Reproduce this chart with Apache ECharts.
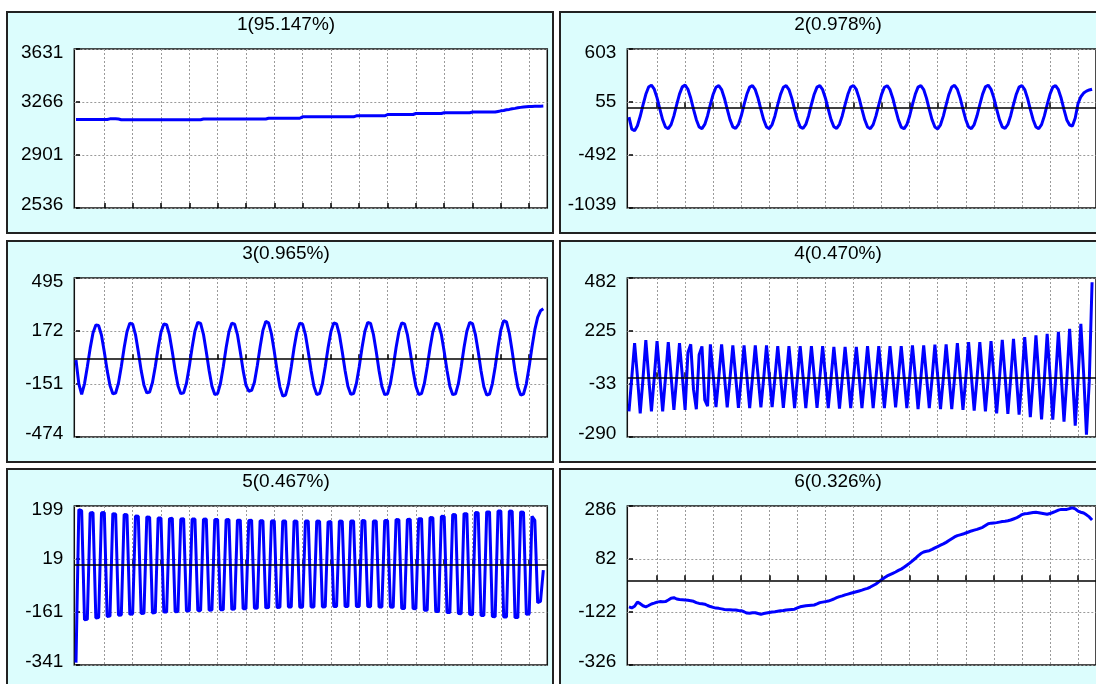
<!DOCTYPE html>
<html>
<head>
<meta charset="utf-8">
<script src="https://cdn.jsdelivr.net/npm/echarts@6/dist/echarts.min.js"></script>
<style>
html,body{margin:0;padding:0;background:#fff;}
#chart{width:1096px;height:684px;}
</style>
</head>
<body>
<div id="chart"></div>
<script>
// Panel titles: component number and its share of variance
const titles = ['1(95.147%)', '2(0.978%)', '3(0.965%)', '4(0.470%)', '5(0.467%)', '6(0.326%)'];

// Y tick labels for each panel (min, two inner gridlines, max)
const yTicks = [
  [2536, 2901, 3266, 3631],
  [-1039, -492, 55, 603],
  [-474, -151, 172, 495],
  [-290, -33, 225, 482],
  [-341, -161, 19, 199],
  [-326, -122, 82, 286]
];

// X tick positions (sample index)
const xTicks = [10, 20, 30, 40, 50, 60, 70, 80, 90, 100, 110, 120, 130, 140, 150, 160];

// Reconstructed components, one value per sample (166 samples)
const comp1 = [
  3145,3145,3145,3145,3145,3145,3145,3145,3145,3145,3145,3145,
  3150,3151,3151,3149,
  3144,3144,3144,3144,3144,3144,3144,3144,3144,3144,3144,3144,3144,3144,3144,
  3144,3144,3144,3144,3144,3144,3144,3144,3144,3144,3144,3144,3144,3144,
  3149,3149,3149,3149,3149,3149,3149,3149,3149,3149,3149,3149,
  3149,3149,3149,3149,3149,3149,3149,3149,3149,3149,3149,
  3154,3154,3154,3154,3154,3154,3154,3154,3154,3154,3154,3154,
  3164,3164,3164,3164,3164,3164,3164,3164,3164,3164,
  3164,3164,3164,3164,3164,3164,3164,3164,3164,
  3171,3171,3171,3171,3171,3171,3171,3171,3171,3171,3171,
  3180,3180,3180,3180,3180,3180,3180,3180,3180,3180,
  3187,3187,3187,3187,3187,3187,3187,3187,3187,3187,
  3192,3192,3192,3192,3192,3192,3192,3192,3192,3192,
  3197,3197,3197,3197,3197,3197,3197,3197,3197,
  3201,3205,3208,3212,3215,3219,3222,3226,3229,3232,3234,
  3235,3235,3236,3236,3237,3238
];

const comp2 = [
  -100,-225,-240,-190,-92,25,135,210,230,188,98,-18,
  -128,-203,-220,-178,-88,28,137,212,230,187,97,-20,
  -127,-202,-219,-176,-86,30,136,208,225,184,95,-19,
  -126,-201,-218,-176,-87,29,135,209,224,183,94,-21,
  -128,-202,-219,-177,-88,28,134,208,225,184,96,-20,
  -127,-201,-218,-176,-86,30,136,209,225,183,95,-19,
  -126,-200,-217,-175,-86,29,135,210,226,185,96,-20,
  -128,-203,-220,-178,-88,27,134,208,224,183,95,-21,
  -129,-204,-221,-179,-89,28,135,209,225,184,96,-20,
  -128,-203,-222,-180,-90,27,136,211,228,186,97,-19,
  -127,-202,-219,-177,-87,29,137,212,229,187,98,-18,
  -126,-201,-218,-176,-86,30,136,209,226,184,95,-20,
  -127,-202,-219,-178,-88,28,135,209,225,183,94,-22,
  -130,-182,-192,-110,40,110,148,168,180,188
];

const comp3 = [
  -5,-150,-214,-150,-46,66,160,208,205,146,44,-68,
  -160,-210,-206,-145,-44,70,168,220,214,150,46,-68,
  -158,-205,-200,-142,-44,68,165,215,210,148,45,-68,
  -162,-210,-205,-146,-45,72,172,225,218,152,46,-69,
  -165,-215,-210,-148,-46,70,168,220,214,150,46,-68,
  -158,-195,-190,-140,-40,75,176,230,222,155,48,-70,
  -170,-224,-218,-152,-47,70,168,220,214,150,46,-69,
  -165,-215,-210,-148,-46,70,168,221,215,150,46,-69,
  -165,-214,-209,-148,-46,71,170,224,218,152,47,-70,
  -166,-216,-211,-149,-46,70,168,221,215,150,46,-69,
  -165,-215,-210,-148,-46,70,168,220,214,150,46,-69,
  -166,-216,-211,-149,-46,71,170,224,217,152,47,-70,
  -168,-218,-212,-150,-47,73,178,235,228,158,48,-72,
  -170,-218,-212,-150,-45,75,180,255,295,307
];

const comp4 = [
  -166,0,166,5,-175,-5,180,4,-166,-3,176,6,-166,-4,171,5,-158,-2,166,8,
  -158,120,160,-60,-155,110,150,-110,-140,160,10,-145,0,160,8,-146,-4,155,6,-148,
  -3,155,5,-150,-2,155,6,-146,-4,155,5,-145,-3,151,4,-148,-5,151,6,-150,
  -3,151,5,-150,-4,151,6,-148,-3,151,4,-150,-5,147,6,-152,-4,147,5,-150,
  -3,147,5,-150,-4,151,6,-150,-3,151,5,-150,-4,151,6,-146,-3,151,5,-150,
  -4,155,6,-155,-3,155,5,-150,-4,158,6,-155,-4,160,5,-155,-4,166,6,-158,
  -5,171,6,-162,-5,171,7,-166,-6,175,8,-175,-6,182,8,-178,-7,187,9,-182,
  -8,195,10,-194,-9,204,10,-204,-10,211,12,-206,-10,220,12,-215,-12,235,14,-235,
  -14,260,16,-279,-20,461
];

const comp5 = [
  -333,
  187,183,-187,-186, 175,177,-181,-180, 176,177,-176,-175, 173,172,-172,-171,
  170,169,-169,-168, 165,164,-166,-165, 162,161,-164,-163, 158,158,-161,-161,
  156,157,-160,-159, 155,156,-158,-157, 155,155,-156,-156, 154,155,-155,-154,
  153,153,-153,-153, 152,153,-152,-151, 151,151,-150,-150, 150,151,-148,-148,
  149,149,-147,-146, 148,149,-146,-145, 148,148,-144,-144, 148,147,-145,-145,
  148,148,-144,-144, 148,147,-144,-143, 145,146,-142,-142, 148,147,-142,-142,
  148,148,-142,-142, 150,149,-142,-143, 148,148,-144,-144, 150,150,-144,-145,
  153,152,-149,-149, 153,154,-149,-150, 156,156,-155,-155, 160,159,-159,-159,
  164,163,-163,-163, 170,169,-166,-167, 173,173,-169,-170, 177,176,-173,-173,
  179,179,-176,-177, 182,182,-178,-178, 182,181,-180,-180, 179,178,-169,-168,
  164,150,-129,-125,
  -19
];

const comp6 = [
  -102,-106,-100,-84,-90,-98,-102,-97,-91,-88,-84,-82,-83,-82,-76,-69,-67,-72,-74,-75,
  -76,-77,-79,-81,-86,-89,-90,-92,-97,-101,-104,-107,-108,-110,-112,-113,-113,-114,-114,-116,
  -117,-121,-126,-127,-125,-125,-128,-131,-128,-126,-124,-122,-121,-119,-117,-116,-114,-113,-112,-111,
  -106,-102,-100,-98,-97,-96,-95,-91,-86,-84,-82,-80,-76,-72,-67,-63,-60,-56,-53,-50,
  -47,-44,-41,-38,-34,-31,-26,-20,-14,-6,2,10,17,22,27,32,38,43,50,58,
  66,75,84,94,103,109,112,114,119,125,130,135,140,146,153,160,167,172,175,178,
  182,186,190,193,196,200,204,211,218,220,221,222,224,226,227,229,232,236,240,246,
  253,256,257,259,261,262,260,258,256,254,257,261,265,270,273,273,273,276,279,275,
  266,262,259,252,244,232
];

const components = [comp1, comp2, comp3, comp4, comp5, comp6];

// Layout of the 2 x 3 panel grid
const FONT = '"Liberation Sans", Arial, Helvetica, sans-serif';
const panelX = [7, 560];
const panelY = [12, 241, 469];
const panelW = 546, panelH = 221;
const plotX = [74.3, 627.3];
const plotW = 473;
const plotOffsetTop = 37, plotH = 159;
const titleX = [286, 838];

const grids = [], xAxes = [], yAxes = [], series = [], graphics = [];

components.forEach((vals, p) => {
  const col = p % 2, row = Math.floor(p / 2);
  const ticks = yTicks[p];

  graphics.push({
    type: 'rect', z: -10, silent: true,
    shape: { x: panelX[col], y: panelY[row], width: panelW, height: panelH },
    style: { fill: '#dcfdfd', stroke: '#222', lineWidth: 2 }
  });
  graphics.push({
    type: 'text', z: 5, silent: true,
    x: titleX[col], y: panelY[row] + 13,
    style: {
      text: titles[p], fill: '#000', fontSize: 19, fontFamily: FONT,
      align: 'center', verticalAlign: 'middle',
      textAlign: 'center', textVerticalAlign: 'middle'
    }
  });

  grids.push({
    left: plotX[col], top: panelY[row] + plotOffsetTop,
    width: plotW, height: plotH,
    show: true, backgroundColor: '#fff', borderColor: '#111', borderWidth: 1.5
  });

  xAxes.push({
    type: 'value', gridIndex: p, min: -0.6, max: 166.4,
    axisLine: { show: false },
    axisTick: { show: true, inside: true, length: 5, customValues: xTicks,
      lineStyle: { color: '#000', width: 1.5 } },
    axisLabel: { show: false, customValues: xTicks },
    splitLine: { show: true, lineStyle: { color: '#9a9a9a', width: 1, type: [2, 2] } }
  });

  const labelStyle = { fontSize: 19, fontFamily: FONT, color: '#000' };
  yAxes.push({
    type: 'value', gridIndex: p, min: ticks[0], max: ticks[3],
    axisLine: { show: false },
    axisTick: { show: true, inside: true, length: 4, customValues: ticks,
      lineStyle: { color: '#000', width: 1.5 } },
    axisLabel: {
      customValues: ticks, margin: 11,
      fontSize: 19, fontFamily: FONT, color: '#000',
      formatter: v => v === ticks[3] ? '{hi|' + v + '}' : (v === ticks[0] ? '{lo|' + v + '}' : String(v)),
      rich: {
        hi: Object.assign({ padding: [8, 0, 0, 0] }, labelStyle),
        lo: Object.assign({ padding: [0, 0, 6, 0] }, labelStyle)
      }
    },
    splitLine: { show: true, lineStyle: { color: '#9a9a9a', width: 1, type: [2, 2] } }
  });

  const s = {
    type: 'line', xAxisIndex: p, yAxisIndex: p,
    data: vals.map((v, i) => [i, v]),
    showSymbol: false, clip: true, animation: false,
    lineStyle: { color: '#0000ff', width: 3 },
    itemStyle: { color: '#0000ff' }
  };
  // zero reference line for the oscillating components
  if (ticks[0] < 0) {
    s.markLine = {
      silent: true, symbol: 'none', animation: false,
      label: { show: false },
      lineStyle: { color: '#000', width: 1.6, type: 'solid' },
      data: [{ yAxis: 0 }]
    };
  }
  series.push(s);
});

const chart = echarts.init(document.getElementById('chart'), null, { renderer: 'canvas' });
chart.setOption({
  animation: false,
  backgroundColor: '#fff',
  graphic: { elements: graphics },
  grid: grids,
  xAxis: xAxes,
  yAxis: yAxes,
  series: series
});
</script>
</body>
</html>
